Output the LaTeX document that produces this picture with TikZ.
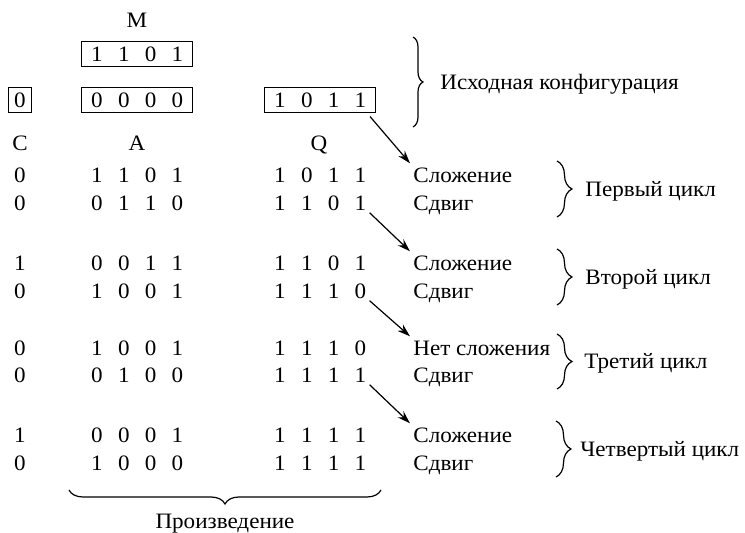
\documentclass[tikz,border=0pt]{standalone}
\usepackage{fontspec}
\setmainfont[FakeStretch=1.05]{Liberation Serif}
\usetikzlibrary{fit,decorations.pathreplacing,arrows.meta,calc}

% one register row: name, x of first digit, y, digit list
\newcommand\bitrow[4]{%
  \foreach \d [count=\i] in {#4}
    \node[txt] (#1-\i) at ({#2+(\i-1)*26.8},#3) {\d};}

\begin{document}
\begin{tikzpicture}[x=0.5pt,y=-0.5pt,
  font=\fontsize{11}{13}\selectfont,
  txt/.style={inner sep=0pt,text height=7.3pt,text depth=0pt},
  optext/.style={txt,anchor=west},
  regbox/.style={draw,line width=0.5pt,inner xsep=4.5pt,inner ysep=2.2pt},
  brace/.style={decorate,decoration={brace,amplitude=#1},line width=0.6pt},
  flow/.style={-{Stealth[length=6.5pt,width=4.2pt]},line width=0.6pt}]
\useasboundingbox (0,0) rectangle (745,533);

% initial registers
\node[txt] (lM) at (137,20) {M};
\bitrow{m}{97}{54}{1,1,0,1}
\node[regbox,fit=(m-1)(m-4)] (mbox) {};

\node[txt] (c0) at (20,100) {0};
\node[regbox,inner xsep=2.8pt,fit=(c0)] (cbox) {};
\bitrow{a0}{97}{100}{0,0,0,0}
\node[regbox,fit=(a0-1)(a0-4)] (abox) {};
\bitrow{q0}{280}{100}{1,0,1,1}
\node[regbox,fit=(q0-1)(q0-4)] (qbox) {};

\node[txt] (lC) at (20,143) {C};
\node[txt] (lA) at (137,143) {A};
\node[txt] (lQ) at (319,143) {Q};

% working rows: C, A, Q and the step taken
\foreach \r/\y/\c/\op in {1/175/0/Сложение,2/203/0/Сдвиг,3/263/1/Сложение,4/291/0/Сдвиг,
    5/348/0/Нет сложения,6/375/0/Сдвиг,7/435/1/Сложение,8/463/0/Сдвиг}{
  \node[txt] (c\r) at (20,\y) {\c};
  \node[optext] (o\r) at (413,\y) {\op};
}
\bitrow{a1}{97}{175}{1,1,0,1} \bitrow{q1}{280}{175}{1,0,1,1}
\bitrow{a2}{97}{203}{0,1,1,0} \bitrow{q2}{280}{203}{1,1,0,1}
\bitrow{a3}{97}{263}{0,0,1,1} \bitrow{q3}{280}{263}{1,1,0,1}
\bitrow{a4}{97}{291}{1,0,0,1} \bitrow{q4}{280}{291}{1,1,1,0}
\bitrow{a5}{97}{348}{1,0,0,1} \bitrow{q5}{280}{348}{1,1,1,0}
\bitrow{a6}{97}{375}{0,1,0,0} \bitrow{q6}{280}{375}{1,1,1,1}
\bitrow{a7}{97}{435}{0,0,0,1} \bitrow{q7}{280}{435}{1,1,1,1}
\bitrow{a8}{97}{463}{1,0,0,0} \bitrow{q8}{280}{463}{1,1,1,1}

% the low bit of Q decides the next step
\draw[flow] ([shift={(-6,4)}]qbox.south east) -- ([shift={(-3,-4)}]o1.north west);
\draw[flow] ([shift={(3,2)}]q2-4.south east) -- ([shift={(-3,-4)}]o3.north west);
\draw[flow] ([shift={(3,2)}]q4-4.south east) -- ([shift={(-3,-4)}]o5.north west);
\draw[flow] ([shift={(3,2)}]q6-4.south east) -- ([shift={(-3,-4)}]o7.north west);

% braces and their captions
\coordinate (b0t) at (413,37);  \coordinate (b0b) at (413,127);
\draw[brace=5pt] (b0t) -- (b0b);
\node[optext] (t0) at (440,82) {Исходная конфигурация};

\foreach \k/\u/\v/\bx/\gap/\name in {1/1/2/557/28/Первый цикл,2/3/4/557/28/Второй цикл,
    3/5/6/557/27/Третий цикл,4/7/8/556/24/Четвертый цикл}{
  \coordinate (bt\k) at (\bx,0 |- o\u.center);
  \coordinate (bb\k) at (\bx,0 |- o\v.center);
  \draw[brace=7.5pt] ([yshift=7pt]bt\k) -- ([yshift=-7pt]bb\k);
  \node[optext] (t\k) at ($(bt\k)!0.5!(bb\k)+(\gap,0)$) {\name};
}

\coordinate (pl) at (69,490); \coordinate (pr) at (381,490);
\draw[brace=7pt] (pr) -- (pl);
\node[txt] (prod) at (225,521) {Произведение};
\end{tikzpicture}
\end{document}
